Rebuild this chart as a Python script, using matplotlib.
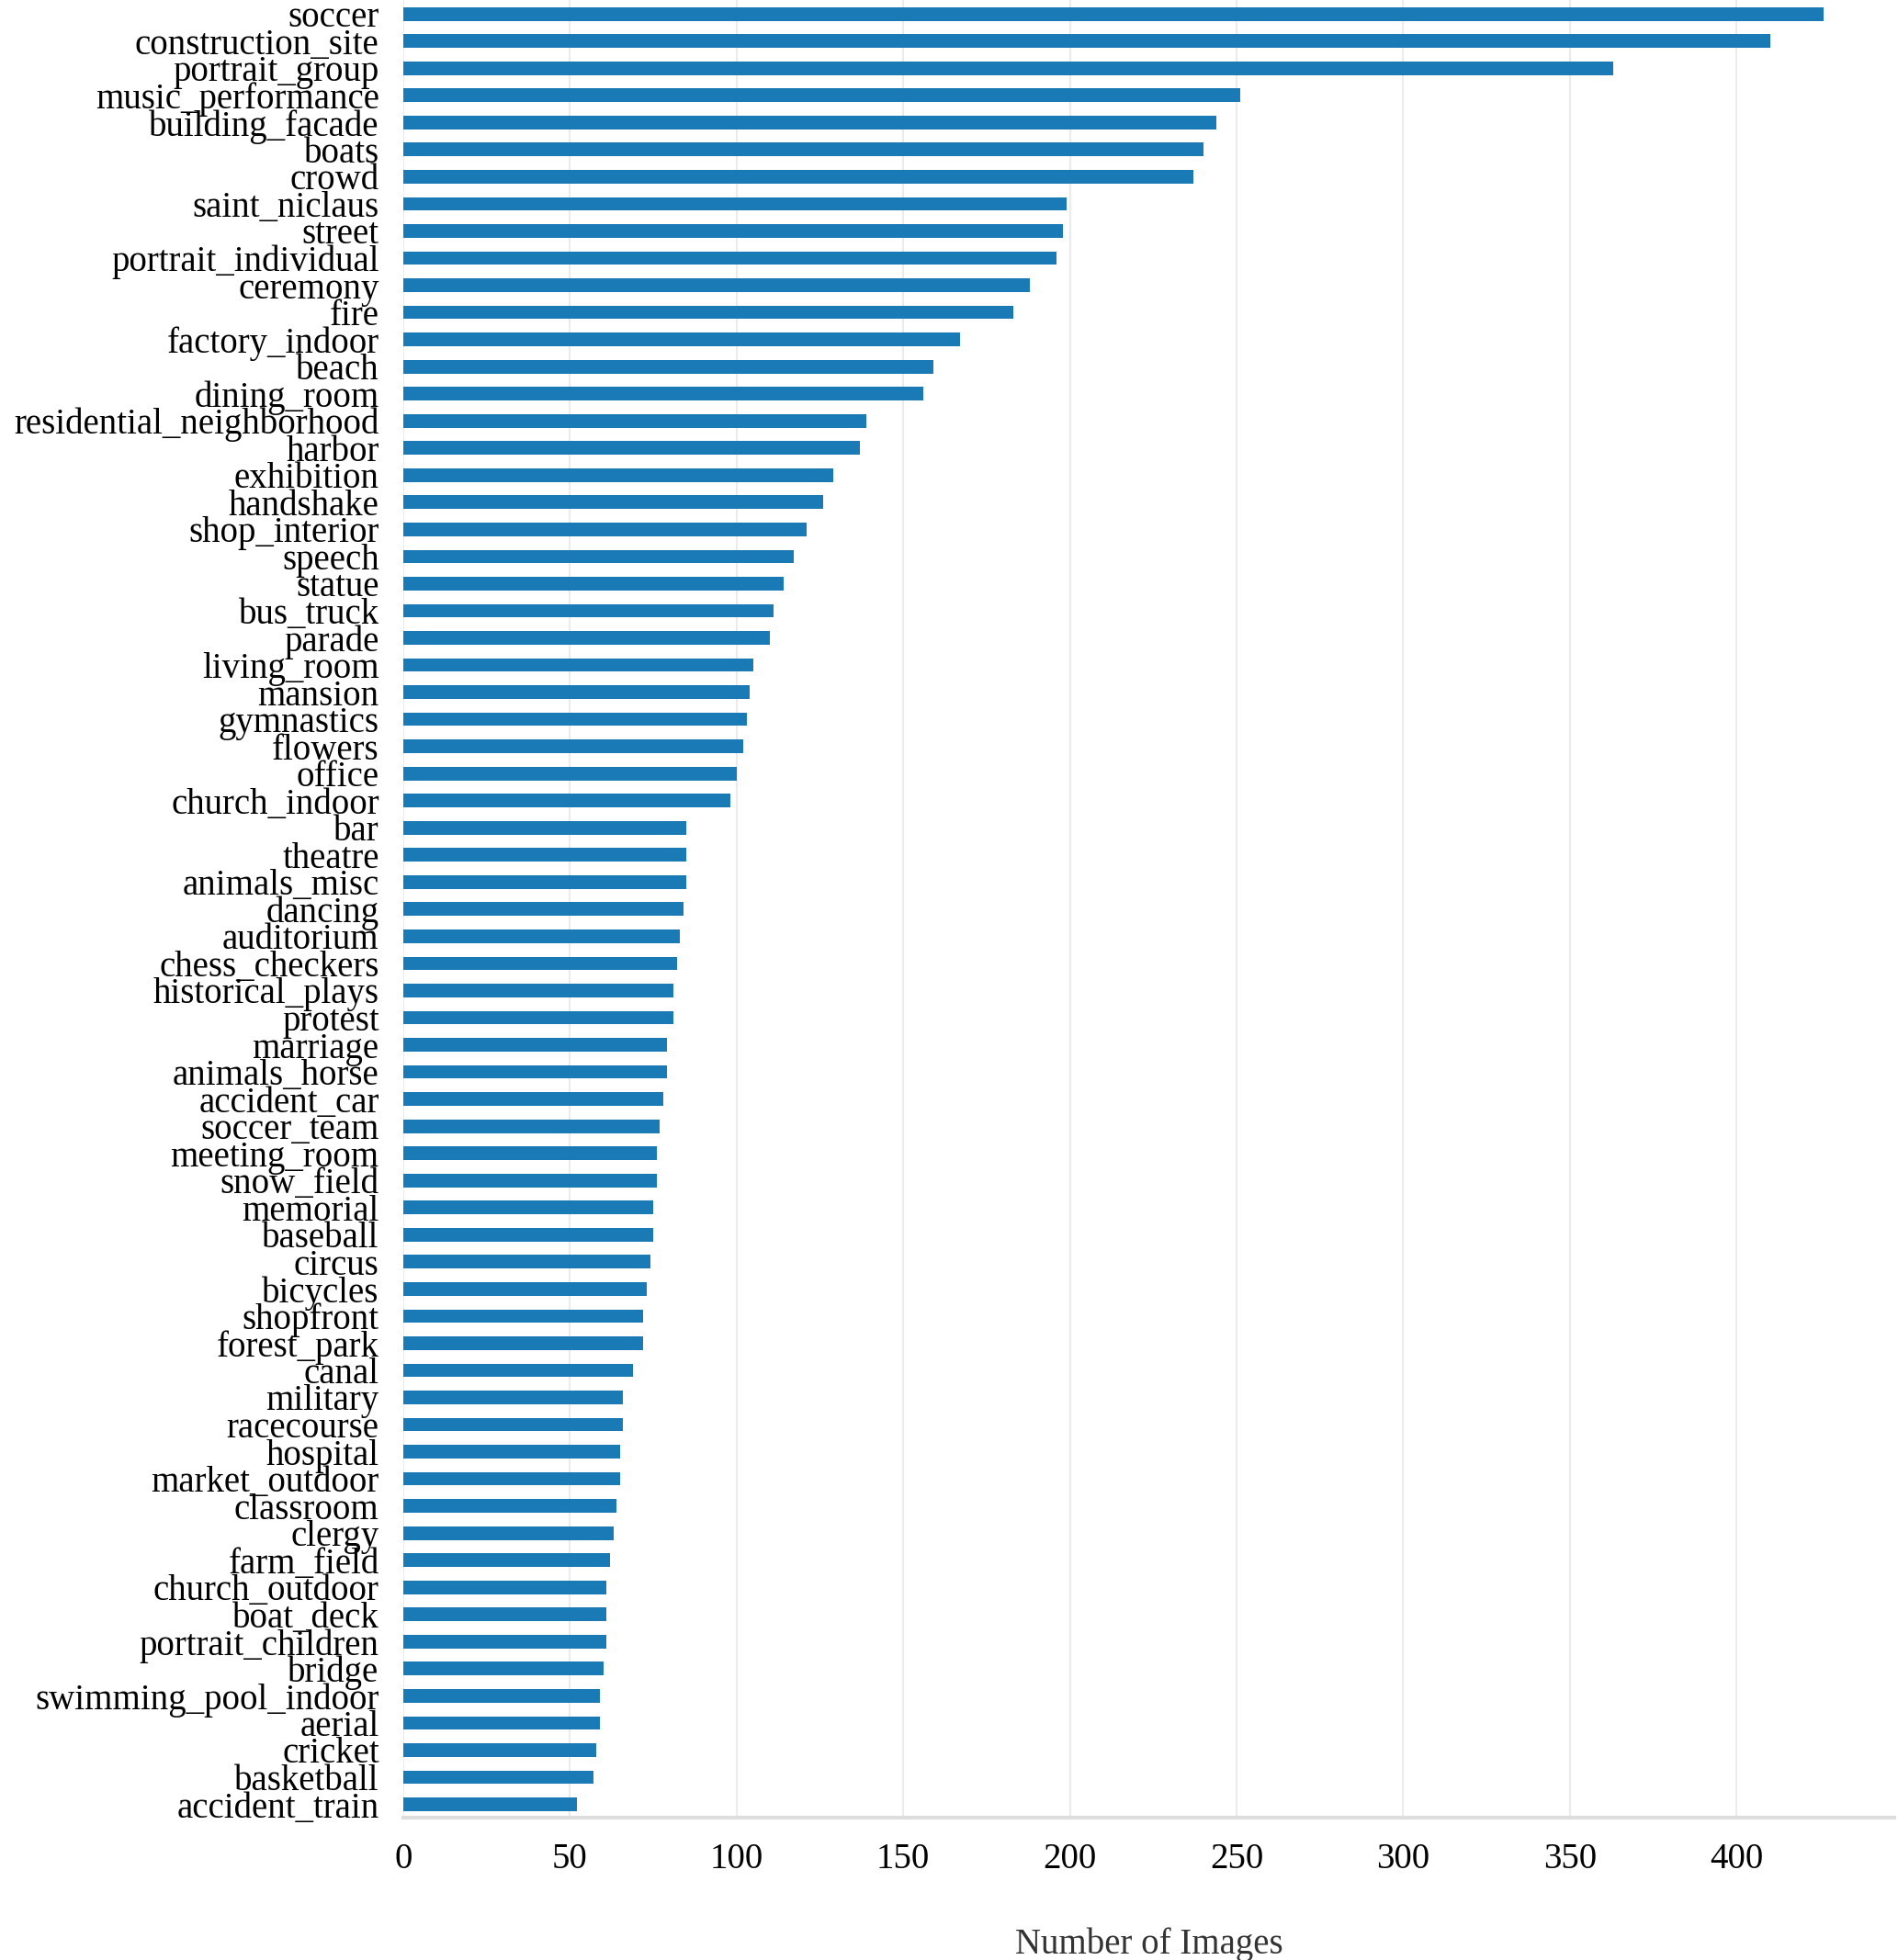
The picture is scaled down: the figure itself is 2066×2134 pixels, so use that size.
import matplotlib.pyplot as plt

categories = [
    "soccer", "construction_site", "portrait_group", "music_performance",
    "building_facade", "boats", "crowd", "saint_niclaus", "street",
    "portrait_individual", "ceremony", "fire", "factory_indoor", "beach",
    "dining_room", "residential_neighborhood", "harbor", "exhibition",
    "handshake", "shop_interior", "speech", "statue", "bus_truck", "parade",
    "living_room", "mansion", "gymnastics", "flowers", "office",
    "church_indoor", "bar", "theatre", "animals_misc", "dancing",
    "auditorium", "chess_checkers", "historical_plays", "protest",
    "marriage", "animals_horse", "accident_car", "soccer_team",
    "meeting_room", "snow_field", "memorial", "baseball", "circus",
    "bicycles", "shopfront", "forest_park", "canal", "military",
    "racecourse", "hospital", "market_outdoor", "classroom", "clergy",
    "farm_field", "church_outdoor", "boat_deck", "portrait_children",
    "bridge", "swimming_pool_indoor", "aerial", "cricket", "basketball",
    "accident_train",
]
counts = [
    426, 410, 363, 251, 244, 240, 237, 199, 198, 196, 188, 183, 167, 159,
    156, 139, 137, 129, 126, 121, 117, 114, 111, 110, 105, 104, 103, 102,
    100, 98, 85, 85, 85, 84, 83, 82, 81, 81, 79, 79, 78, 77, 76, 76, 75,
    75, 74, 73, 72, 72, 69, 66, 66, 65, 65, 64, 63, 62, 61, 61, 61, 60,
    59, 59, 58, 57, 52,
]

plt.rcParams["font.family"] = ["Liberation Serif", "DejaVu Serif"]

fig = plt.figure(figsize=(20.66, 21.34), dpi=100)
ax = fig.add_axes([0.2125, 0.0725, 0.7855, 0.9273])

pos = list(range(len(categories)))
ax.barh(pos, counts, height=0.5, color="#1a7ab5")
ax.set_yticks(pos)
ax.set_yticklabels(categories)
ax.set_ylim(len(categories) - 0.5, -0.5)
ax.set_xlim(0, max(counts) * 1.05)
ax.set_xticks(range(0, 401, 50))

ax.tick_params(axis="both", length=0, pad=19, labelsize=28)
ax.grid(axis="x", color="#ebebeb", linewidth=1.5)
ax.set_axisbelow(True)
for side in ["top", "right", "left"]:
    ax.spines[side].set_visible(False)
ax.spines["bottom"].set_color("#dedede")
ax.spines["bottom"].set_linewidth(3)

ax.set_xlabel("Number of Images", fontsize=28, color="#333333", labelpad=40)

fig.savefig("out.png", dpi=100)
